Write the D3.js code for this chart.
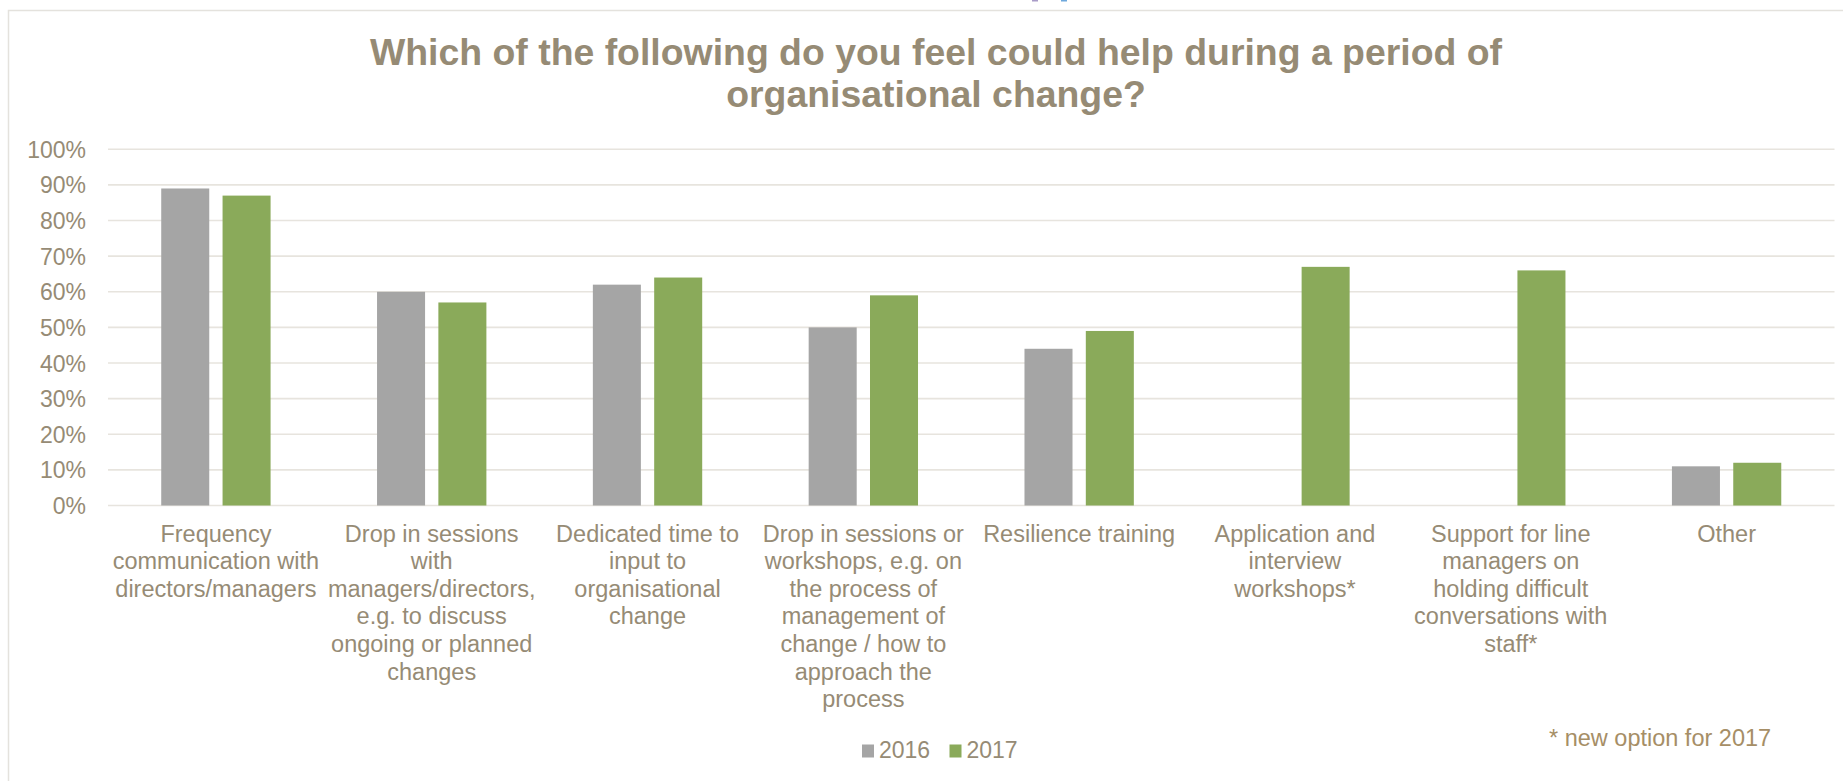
<!DOCTYPE html>
<html>
<head>
<meta charset="utf-8">
<script src="https://cdn.jsdelivr.net/npm/d3@7"></script>
<style>
  html, body { margin: 0; padding: 0; background: #ffffff; }
  svg { display: block; }
  text { font-family: "Liberation Sans", Arial, sans-serif; }
</style>
</head>
<body>
<svg id="chart" width="1843" height="781"></svg>
<script>
// Survey question options (wrapped label lines per category)
const categories = [
  ["Frequency", "communication with", "directors/managers"],
  ["Drop in sessions", "with", "managers/directors,", "e.g. to discuss", "ongoing or planned", "changes"],
  ["Dedicated time to", "input to", "organisational", "change"],
  ["Drop in sessions or", "workshops, e.g. on", "the process of", "management of", "change / how to", "approach the", "process"],
  ["Resilience training"],
  ["Application and", "interview", "workshops*"],
  ["Support for line", "managers on", "holding difficult", "conversations with", "staff*"],
  ["Other"]
];

// Share of respondents (%); null = option not offered that year
const values2016 = [89, 60, 62, 50, 44, null, null, 11];
const values2017 = [87, 57, 64, 59, 49, 67, 66, 12];

const seriesNames = ["2016", "2017"];
const seriesColors = ["#a5a5a5", "#8aaa5a"];

const yTicks = [0, 10, 20, 30, 40, 50, 60, 70, 80, 90, 100];

const titleLines = [
  "Which of the following do you feel could help during a period of",
  "organisational change?"
];
const footnote = "* new option for 2017";

const textColor = "#968b75";
const gridColor = "#e7e4de";

const svg = d3.select("#chart");

// chart frame
svg.append("path")
  .attr("d", "M8.5,781 L8.5,10.5 L1843,10.5")
  .attr("fill", "none")
  .attr("stroke", "#e4e2dd")
  .attr("stroke-width", 1.5);

// small marks peeking in above the frame
svg.append("rect").attr("x", 1032).attr("y", 0).attr("width", 6).attr("height", 1.5).attr("fill", "#a99cc8");
svg.append("rect").attr("x", 1061).attr("y", 0).attr("width", 6).attr("height", 1.5).attr("fill", "#6ea8dc");

const plot = { left: 108, right: 1834.5, top: 149.3, bottom: 505.5 };

const x = d3.scaleBand()
  .domain(d3.range(categories.length))
  .range([plot.left, plot.right])
  .paddingInner(0)
  .paddingOuter(0);

const inner = d3.scaleBand()
  .domain(seriesNames)
  .range([0, x.bandwidth()])
  .paddingInner(0.217)
  .paddingOuter(0.868);

const y = d3.scaleLinear().domain([0, 100]).range([plot.bottom, plot.top]);

// gridlines
svg.append("g")
  .selectAll("line")
  .data(yTicks)
  .join("line")
  .attr("x1", plot.left)
  .attr("x2", plot.right)
  .attr("y1", d => y(d))
  .attr("y2", d => y(d))
  .attr("stroke", gridColor)
  .attr("stroke-width", 1.6);

// y axis labels
const yAxis = d3.axisLeft(y)
  .tickValues(yTicks)
  .tickFormat(d => d + "%")
  .tickSize(0)
  .tickPadding(0);

const yG = svg.append("g")
  .attr("transform", `translate(86,0)`)
  .call(yAxis);
yG.select(".domain").remove();
yG.selectAll("text")
  .attr("fill", textColor)
  .style("font-size", "23px")
  .attr("dy", "0.35em");

// bars
const rows = categories.map((c, i) => ({ i, vals: [values2016[i], values2017[i]] }));

const groups = svg.append("g")
  .selectAll("g")
  .data(rows)
  .join("g")
  .attr("transform", d => `translate(${x(d.i)},0)`);

groups.selectAll("rect")
  .data(d => d.vals.map((v, k) => ({ v, k })).filter(e => e.v !== null))
  .join("rect")
  .attr("x", e => inner(seriesNames[e.k]))
  .attr("width", inner.bandwidth())
  .attr("y", e => y(e.v))
  .attr("height", e => y(0) - y(e.v))
  .attr("fill", e => seriesColors[e.k]);

// category labels
const labelG = svg.append("g")
  .selectAll("text")
  .data(categories)
  .join("text")
  .attr("x", (d, i) => x(i) + x.bandwidth() / 2)
  .attr("y", 541.5)
  .attr("text-anchor", "middle")
  .attr("fill", textColor)
  .style("font-size", "23.5px");

labelG.selectAll("tspan")
  .data(d => d)
  .join("tspan")
  .attr("x", function () { return d3.select(this.parentNode).attr("x"); })
  .attr("dy", (d, j) => j === 0 ? 0 : 27.6)
  .text(d => d);

// title
svg.append("g")
  .selectAll("text")
  .data(titleLines)
  .join("text")
  .attr("x", 936)
  .attr("y", (d, i) => 65 + i * 42.3)
  .attr("text-anchor", "middle")
  .attr("fill", textColor)
  .style("font-size", "37.4px")
  .style("font-weight", "bold")
  .text(d => d);

// legend
const legendItems = [
  { name: seriesNames[0], color: seriesColors[0], x: 862 },
  { name: seriesNames[1], color: seriesColors[1], x: 949.5 }
];
const lg = svg.append("g")
  .selectAll("g")
  .data(legendItems)
  .join("g")
  .attr("transform", d => `translate(${d.x},0)`);
lg.append("rect")
  .attr("x", 0).attr("y", 744.5)
  .attr("width", 12).attr("height", 13)
  .attr("fill", d => d.color);
lg.append("text")
  .attr("x", 17).attr("y", 757.7)
  .attr("fill", textColor)
  .style("font-size", "23px")
  .text(d => d.name);

// footnote
svg.append("text")
  .attr("x", 1549)
  .attr("y", 746)
  .attr("fill", "#a68e66")
  .style("font-size", "23.5px")
  .text(footnote);
</script>
</body>
</html>
